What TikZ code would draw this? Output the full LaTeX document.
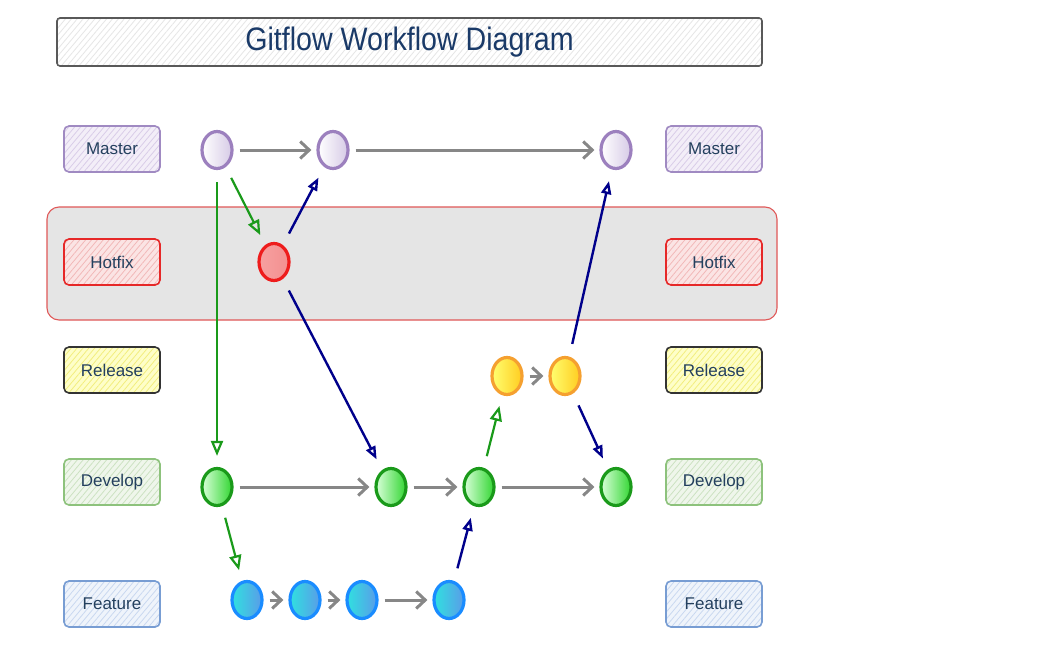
\documentclass[tikz,border=0pt]{standalone}
\usepackage{fontspec}
\setmainfont{Liberation Sans}
\usetikzlibrary{shapes.geometric,arrows.meta,patterns.meta}
\definecolor{txt}{HTML}{24405E}
\definecolor{ttl}{HTML}{1A3A68}
\definecolor{grayarr}{HTML}{878787}
\definecolor{greenarr}{HTML}{1A9A1A}
\definecolor{navyarr}{HTML}{00008B}
\definecolor{bandfill}{HTML}{E5E5E5}
\definecolor{bandline}{HTML}{E05858}
\definecolor{tB}{HTML}{595959}\definecolor{tF}{HTML}{FFFFFF}\definecolor{tH}{HTML}{E6E6E6}
% label colours
\definecolor{mB}{HTML}{A08AC2}\definecolor{mF}{HTML}{F3EEF8}\definecolor{mH}{HTML}{D9CCE8}
\definecolor{hB}{HTML}{E62828}\definecolor{hF}{HTML}{FBE4E4}\definecolor{hH}{HTML}{F2B8B8}
\definecolor{rB}{HTML}{333333}\definecolor{rF}{HTML}{FEFEC8}\definecolor{rH}{HTML}{F2EE7E}
\definecolor{dB}{HTML}{8DC27C}\definecolor{dF}{HTML}{EFF6EB}\definecolor{dH}{HTML}{CCE2C2}
\definecolor{fB}{HTML}{789DD3}\definecolor{fF}{HTML}{EFF4FB}\definecolor{fH}{HTML}{C9D8F0}
% commit colours
\definecolor{cmD}{HTML}{9C80BE}\definecolor{cmL}{HTML}{FFFFFF}\definecolor{cmR}{HTML}{D6CAE6}
\definecolor{chD}{HTML}{EE1C1C}\definecolor{chL}{HTML}{F7A0A0}\definecolor{chR}{HTML}{F39090}
\definecolor{crD}{HTML}{F5A030}\definecolor{crL}{HTML}{FFFF70}\definecolor{crR}{HTML}{FFCC20}
\definecolor{cdD}{HTML}{1A9A1A}\definecolor{cdL}{HTML}{D8FFD8}\definecolor{cdR}{HTML}{33D633}
\definecolor{cfD}{HTML}{1A8CFF}\definecolor{cfL}{HTML}{30E0E0}\definecolor{cfR}{HTML}{5A9CE8}
\tikzset{
  hatched/.style={preaction={fill=#1F}, pattern={Lines[angle=50,distance=4.5pt,line width=0.8pt]},
    pattern color=#1H, draw=#1B},
  lbl/.style={rectangle, rounded corners=5pt, minimum width=96pt, minimum height=46pt,
    line width=1.6pt, hatched=#1, font=\fontsize{17}{19}\selectfont, text=txt},
  commit/.style={ellipse, minimum width=30pt, minimum height=37pt, inner sep=0pt,
    line width=3.2pt, draw=c#1D, left color=c#1L, right color=c#1R},
  grayline/.style={draw=grayarr, line width=3pt, -{Straight Barb[length=9pt,width=17pt]},
    shorten <=6pt, shorten >=5pt},
  greenline/.style={draw=greenarr, line width=2.2pt, -{Triangle[open,length=15pt,width=12pt]},
    shorten <=12pt, shorten >=11pt},
  navyline/.style={draw=navyarr, line width=2.4pt, -{Triangle[open,length=13pt,width=10pt]},
    shorten <=13pt, shorten >=12pt},
}
\begin{document}
\begin{tikzpicture}[x=1pt,y=-1pt]
\useasboundingbox (0,0) rectangle (1040,664);
\fill[white] (0,0) rectangle (1040,664);
% title
\node[rectangle, rounded corners=3pt, minimum width=705pt, minimum height=48pt, line width=1.6pt,
  hatched=t, text=ttl] (title) at (409.5,42)
  {\scalebox{0.88}[1]{\fontsize{32.5}{34}\selectfont Gitflow Workflow Diagram}};
% hotfix band
\node[rectangle, rounded corners=12pt, minimum width=730pt, minimum height=113pt, line width=1.1pt,
  draw=bandline, fill=bandfill] (band) at (412,263.5) {};
% labels left
\node[lbl=m] (lm) at (112,149) {Master};
\node[lbl=h] (lh) at (112,262) {Hotfix};
\node[lbl=r] (lr) at (112,370) {Release};
\node[lbl=d] (ld) at (112,482) {Develop};
\node[lbl=f] (lf) at (112,604) {Feature};
% labels right
\node[lbl=m] (rm) at (714,149) {Master};
\node[lbl=h] (rh) at (714,262) {Hotfix};
\node[lbl=r] (rr) at (714,370) {Release};
\node[lbl=d] (rd) at (714,482) {Develop};
\node[lbl=f] (rf) at (714,604) {Feature};
% commits
\node[commit=m] (m1) at (217,150) {};
\node[commit=m] (m2) at (333,150) {};
\node[commit=m] (m3) at (616,150) {};
\node[commit=h] (h1) at (274,262) {};
\node[commit=r] (r1) at (507,376) {};
\node[commit=r] (r2) at (565,376) {};
\node[commit=d] (d1) at (217,487) {};
\node[commit=d] (d2) at (391,487) {};
\node[commit=d] (d3) at (479,487) {};
\node[commit=d] (d4) at (616,487) {};
\node[commit=f] (f1) at (247,600) {};
\node[commit=f] (f2) at (305,600) {};
\node[commit=f] (f3) at (362,600) {};
\node[commit=f] (f4) at (449,600) {};
% gray arrows
\draw[grayline] (m1) -- (m2);
\draw[grayline] (m2) -- (m3);
\draw[grayline] (d1) -- (d2);
\draw[grayline] (d2) -- (d3);
\draw[grayline] (d3) -- (d4);
\draw[grayline] (f1) -- (f2);
\draw[grayline] (f2) -- (f3);
\draw[grayline] (f3) -- (f4);
\draw[grayline] (r1) -- (r2);
% green arrows
\draw[greenline] (m1) -- (d1);
\draw[greenline] (m1) -- (h1);
\draw[greenline] (d1) -- (f1);
\draw[greenline] (d3) -- (r1);
% navy arrows
\draw[navyline] (h1) -- (m2);
\draw[navyline] (h1) -- (d2);
\draw[navyline] (f4) -- (d3);
\draw[navyline] (r2) -- (m3);
\draw[navyline] (r2) -- (d4);
\end{tikzpicture}
\end{document}
